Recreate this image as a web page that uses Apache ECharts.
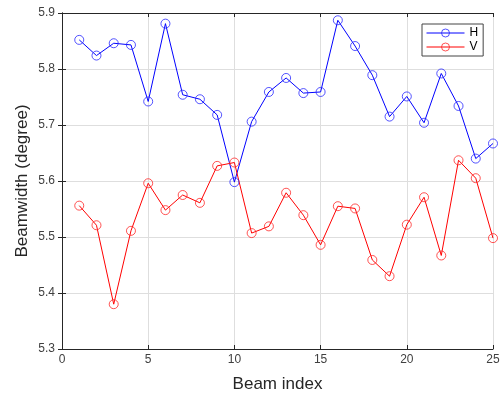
<!DOCTYPE html>
<html>
<head>
<meta charset="utf-8">
<script src="https://cdn.jsdelivr.net/npm/echarts@6/dist/echarts.min.js"></script>
<style>
  html, body { margin: 0; padding: 0; background: #fff; }
  #chart { width: 504px; height: 403px; }
</style>
</head>
<body>
<div id="chart"></div>
<script>
// beam index 1..25
const beamIndex = [1, 2, 3, 4, 5, 6, 7, 8, 9, 10, 11, 12, 13, 14, 15, 16, 17, 18, 19, 20, 21, 22, 23, 24, 25]
const hWidth = [5.852, 5.824, 5.846, 5.843, 5.742, 5.881, 5.754, 5.746, 5.718, 5.598,
  5.706, 5.759, 5.784, 5.757, 5.759, 5.887, 5.841, 5.789, 5.715, 5.751,
  5.704, 5.792, 5.734, 5.640, 5.667]
const vWidth = [5.556, 5.521, 5.380, 5.511, 5.596, 5.548, 5.575, 5.561, 5.627, 5.633,
  5.507, 5.519, 5.579, 5.539, 5.486, 5.555, 5.551, 5.459, 5.430, 5.522,
  5.571, 5.467, 5.637, 5.605, 5.498]

const font = 'Liberation Sans, Arial, sans-serif'
const chart = echarts.init(document.getElementById('chart'))

const boxAxis = {
  axisLine: { show: true, lineStyle: { color: '#262626', width: 1 } },
  axisTick: { show: true, inside: true, length: 4, lineStyle: { color: '#262626' } },
  axisLabel: { show: false },
  splitLine: { show: false }
}

function lineSeries(name, values, color, ringColor) {
  return {
    name,
    type: 'line',
    data: beamIndex.map((x, i) => [x, values[i]]),
    symbol: 'circle',
    symbolSize: 9,
    lineStyle: { color, width: 1 },
    itemStyle: { color: 'rgba(0,0,0,0)', borderColor: ringColor, borderWidth: 1 },
    emphasis: { disabled: true }
  }
}

chart.setOption({
  animation: false,
  grid: { left: 62, right: 11, top: 13, bottom: 54 },
  legend: {
    orient: 'vertical',
    left: 422,
    top: 24,
    padding: [3, 5, 3, 4],
    itemGap: 2,
    itemWidth: 38,
    itemHeight: 10,
    borderColor: '#444',
    borderWidth: 1,
    backgroundColor: '#fff',
    lineStyle: { width: 1 },
    itemStyle: { borderWidth: 1 },
    textStyle: { fontFamily: font, fontSize: 12, color: '#000' },
    data: ['H', 'V']
  },
  xAxis: [
    {
      type: 'value', min: 0, max: 25, interval: 5,
      name: 'Beam index', nameLocation: 'middle', nameGap: 27, nameMoveOverlap: false,
      nameTextStyle: { fontFamily: font, fontSize: 17, color: '#262626' },
      axisLine: { show: true, lineStyle: { color: '#262626' } },
      axisTick: { show: true, inside: true, length: 4, lineStyle: { color: '#262626' } },
      axisLabel: { fontFamily: font, fontSize: 12, color: '#404040', margin: 5 },
      splitLine: { show: true, lineStyle: { color: '#dedede' } }
    },
    Object.assign({ type: 'value', min: 0, max: 25, interval: 5, position: 'top' }, boxAxis)
  ],
  yAxis: [
    {
      type: 'value', min: 5.3, max: 5.9, interval: 0.1,
      name: 'Beamwidth (degree)', nameLocation: 'middle', nameGap: 31, nameMoveOverlap: false,
      nameTextStyle: { fontFamily: font, fontSize: 17, color: '#262626' },
      axisLine: { show: true, lineStyle: { color: '#262626' } },
      axisTick: { show: true, inside: true, length: 4, lineStyle: { color: '#262626' } },
      axisLabel: { fontFamily: font, fontSize: 12, color: '#404040', margin: 7, formatter: (v) => v.toFixed(1) },
      splitLine: { show: true, lineStyle: { color: '#dedede' } }
    },
    Object.assign({ type: 'value', min: 5.3, max: 5.9, interval: 0.1, position: 'right' }, boxAxis)
  ],
  series: [
    lineSeries('H', hWidth, '#0000ff', 'rgba(40,40,255,0.8)'),
    lineSeries('V', vWidth, '#ff0000', 'rgba(255,40,40,0.8)')
  ]
})
</script>
</body>
</html>
